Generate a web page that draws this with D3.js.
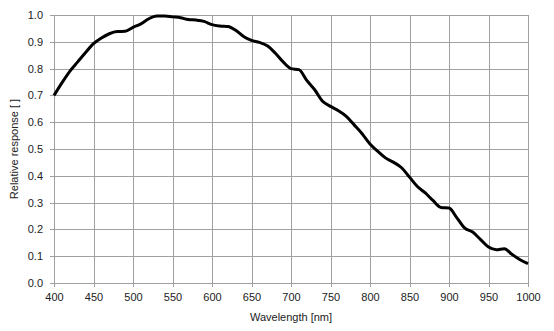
<!DOCTYPE html>
<html lang="en">
<head>
  <meta charset="UTF-8">
  <title>Relative response</title>
  <script src="https://d3js.org/d3.v7.min.js"></script>
  <style>
    body { margin: 0; background: #fff; }
    text { font-family: "Liberation Sans", Arial, sans-serif; fill: #222; }
  </style>
</head>
<body>
  <div id="container"></div>
  <script>
    // wavelength [nm] and relative response
    var wavelength = [400, 410, 420, 430, 440, 450, 460, 470, 480, 490,
      500, 510, 520, 530, 540, 550, 560, 570, 580, 590,
      600, 610, 620, 630, 640, 650, 660, 670, 680, 690,
      700, 710, 720, 730, 740, 750, 760, 770, 780, 790,
      800, 810, 820, 830, 840, 850, 860, 870, 880, 890,
      900, 910, 920, 930, 940, 950, 960, 970, 980, 990, 1000];
    var response = [0.700, 0.747, 0.790, 0.825, 0.860, 0.893, 0.914, 0.930, 0.938, 0.939,
      0.954, 0.967, 0.986, 0.996, 0.996, 0.993, 0.990, 0.983, 0.981, 0.976,
      0.964, 0.959, 0.957, 0.943, 0.920, 0.905, 0.898, 0.885, 0.858, 0.825,
      0.800, 0.796, 0.756, 0.721, 0.678, 0.659, 0.643, 0.622, 0.590, 0.557,
      0.519, 0.491, 0.466, 0.450, 0.430, 0.395, 0.360, 0.336, 0.307, 0.282,
      0.280, 0.243, 0.205, 0.190, 0.162, 0.134, 0.124, 0.128, 0.106, 0.087, 0.072];
    var xTicks = [400, 450, 500, 550, 600, 650, 700, 750, 800, 850, 900, 950, 1000];
    var yTicks = [0, 0.1, 0.2, 0.3, 0.4, 0.5, 0.6, 0.7, 0.8, 0.9, 1.0];

    var width = 554,
      height = 331,
      margin = { left: 54, top: 15, right: 26, bottom: 48 };

    var svg = d3.select("#container")
      .append("svg")
      .attr("width", width)
      .attr("height", height);

    var x = d3.scaleLinear().domain([400, 1000]).range([margin.left, width - margin.right]);
    var y = d3.scaleLinear().domain([0, 1]).range([height - margin.bottom, margin.top]);

    var px = function (v) { return Math.round(v) + 0.5; };

    // grid
    var grid = svg.append("g").attr("stroke", "#a0a0a0").attr("stroke-width", 1);
    grid.selectAll(".gx")
      .data(xTicks)
      .enter()
      .append("line")
      .attr("x1", function (d) { return px(x(d)); })
      .attr("x2", function (d) { return px(x(d)); })
      .attr("y1", y(1))
      .attr("y2", y(0) + 4);
    grid.selectAll(".gy")
      .data(yTicks)
      .enter()
      .append("line")
      .attr("y1", function (d) { return px(y(d)); })
      .attr("y2", function (d) { return px(y(d)); })
      .attr("x1", x(400) - 4)
      .attr("x2", x(1000));

    // axis labels
    var xAxis = d3.axisBottom(x).tickValues(xTicks).tickSize(0).tickPadding(10).tickFormat(d3.format("d"));
    var yAxis = d3.axisLeft(y).tickValues(yTicks).tickSize(0).tickPadding(11).tickFormat(d3.format(".1f"));

    var gx = svg.append("g")
      .attr("transform", "translate(0," + y(0) + ")")
      .call(xAxis);
    var gy = svg.append("g")
      .attr("transform", "translate(" + x(400) + ",0)")
      .call(yAxis);
    [gx, gy].forEach(function (g) {
      g.select(".domain").remove();
      g.selectAll("text")
        .attr("font-size", 11)
        .attr("font-family", "Liberation Sans, Arial, sans-serif")
        .attr("fill", "#222");
    });

    // curve
    var line = d3.line()
      .x(function (d, i) { return x(wavelength[i]); })
      .y(function (d) { return y(d); })
      .curve(d3.curveMonotoneX);

    svg.append("path")
      .datum(response)
      .attr("d", line)
      .attr("fill", "none")
      .attr("stroke", "#000")
      .attr("stroke-width", 3)
      .attr("stroke-linejoin", "round");

    // titles
    svg.append("text")
      .attr("x", (x(400) + x(1000)) / 2)
      .attr("y", 321)
      .attr("text-anchor", "middle")
      .attr("font-size", 11)
      .text("Wavelength [nm]");

    svg.append("text")
      .attr("transform", "translate(18," + (y(0) + y(1)) / 2 + ") rotate(-90)")
      .attr("text-anchor", "middle")
      .attr("font-size", 11)
      .text("Relative response [ ]");
  </script>
</body>
</html>
